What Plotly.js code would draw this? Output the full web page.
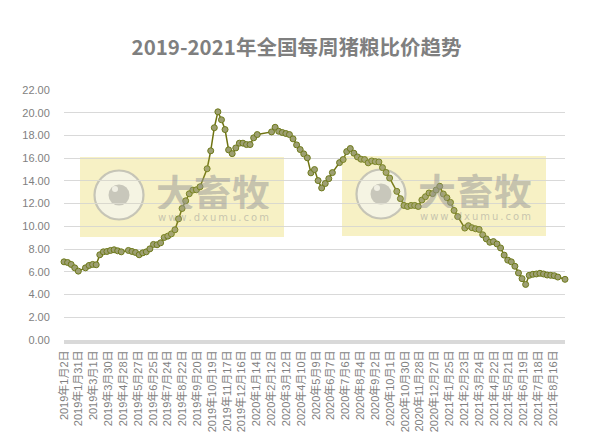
<!DOCTYPE html>
<html><head><meta charset="utf-8">
<script src="https://cdn.plot.ly/plotly-3.0.1.min.js"></script>
<style>html,body{margin:0;padding:0;background:#fff}</style></head>
<body><div id="chart" style="width:613px;height:440px"></div>
<script>
const chartTitle = "2019-2021年全国每周猪粮比价趋势";
const startDate = "2019-01-02";
const weekNumbers = [0,1,2,3,4,6,7,8,9,10,11,12,13,14,15,16,18,19,20,21,22,23,24,25,26,27,28,29,30,31,32,33,34,35,36,37,38,40,41,42,43,44,45,46,47,48,49,50,51,52,53,54,58,59,60,61,62,63,64,65,66,67,68,69,70,71,72,73,74,75,77,78,79,80,81,82,83,84,85,86,87,88,89,90,91,93,94,95,96,97,98,99,100,101,102,103,104,105,106,107,108,109,110,112,113,114,115,116,117,118,119,120,121,122,123,124,125,126,127,128,129,130,131,132,133,134,135,136,137,138,140];
const priceRatio = [6.88,6.82,6.65,6.35,6.06,6.35,6.56,6.65,6.62,7.50,7.76,7.79,7.88,7.94,7.85,7.76,7.88,7.79,7.70,7.50,7.67,7.76,8.02,8.41,8.38,8.55,9.02,9.14,9.34,9.70,10.66,11.57,12.25,12.87,13.19,13.22,13.48,15.07,16.65,18.68,20.08,19.38,18.52,16.73,16.40,16.90,17.32,17.32,17.20,17.20,17.79,18.08,18.31,18.72,18.37,18.26,18.17,18.08,17.70,17.17,16.76,16.38,16.03,14.71,15.00,14.03,13.38,13.77,14.20,14.73,15.61,15.88,16.58,16.85,16.44,16.11,15.91,15.88,15.59,15.76,15.70,15.67,15.17,14.74,14.25,13.08,12.44,11.84,11.75,11.84,11.84,11.75,12.32,12.61,12.94,12.88,13.20,13.53,12.85,12.52,12.11,11.40,10.86,9.85,10.06,9.88,9.79,9.73,9.26,8.90,8.60,8.66,8.45,8.10,7.47,7.03,6.88,6.49,5.90,5.40,4.89,5.69,5.78,5.81,5.87,5.81,5.72,5.69,5.66,5.54,5.34];
const tickDates = ["2019-01-02","2019-01-31","2019-03-01","2019-03-30","2019-04-28","2019-05-27","2019-06-25","2019-07-24","2019-08-22","2019-09-20","2019-10-19","2019-11-17","2019-12-16","2020-01-14","2020-02-12","2020-03-12","2020-04-10","2020-05-09","2020-06-07","2020-07-06","2020-08-04","2020-09-02","2020-10-01","2020-10-30","2020-11-28","2020-12-27","2021-01-25","2021-02-23","2021-03-24","2021-04-22","2021-05-21","2021-06-19","2021-07-18","2021-08-16"];
const tickLabels = tickDates.map(d => { const p = d.split("-"); return p[0]+"年"+(+p[1])+"月"+(+p[2])+"日"; });
const yTicks = [0,2,4,6,8,10,12,14,16,18,20,22];

const dayMs = 86400000;
const t0 = Date.parse(startDate+"T00:00:00Z");
const dates = weekNumbers.map(w => new Date(t0 + w*7*dayMs).toISOString().slice(0,10));
const endDate = new Date(t0 + 140*7*dayMs).toISOString().slice(0,10);

const W=613,H=440,L=64,R=565,T=90,B=340;
const px = x => (x-L)/(R-L), py = y => (B-y)/(B-T);
const FONT = '"Liberation Sans","Noto Sans CJK SC",sans-serif';
const shapes=[], annotations=[];
function rect(dx,dy,op,layer){shapes.push({type:"rect",xref:"paper",yref:"paper",layer:layer,x0:px(80+dx),x1:px(284+dx),y0:py(237+dy),y1:py(157+dy),fillcolor:"#eedd77",opacity:op,line:{width:0}});}
function circle(cx,cy,r,fill,line,lw){shapes.push({type:"circle",xref:"paper",yref:"paper",layer:"between",x0:px(cx-r),x1:px(cx+r),y0:py(cy+r),y1:py(cy-r),fillcolor:fill,line:{color:line,width:lw}});}
function watermark(dx,dy){
  rect(dx,dy,0.36,"between");
  circle(119+dx,195+dy,24.5,"rgba(246,246,246,0.85)","rgba(185,185,185,0.85)",2.2);
  circle(119+dx,195+dy,10.5,"rgba(165,165,165,0.6)","rgba(0,0,0,0)",0);
  circle(115+dx,189+dy,3,"rgba(245,245,245,0.9)","rgba(0,0,0,0)",0);
  rect(dx,dy,0.1,"above");
  annotations.push({xref:"paper",yref:"paper",x:px(213+dx),y:py(190+dy),xanchor:"center",yanchor:"middle",height:38,showarrow:false,text:"<b>大畜牧</b>",font:{family:'"Noto Sans CJK SC"',size:38,color:"rgba(150,150,150,0.5)"}});
  annotations.push({xref:"paper",yref:"paper",x:px(213+dx),y:py(217+dy),xanchor:"center",yanchor:"middle",height:10,showarrow:false,text:"w\u2009w\u2009w\u2009.\u2009d\u2009x\u2009u\u2009m\u2009u\u2009.\u2009c\u2009o\u2009m",font:{family:'"DejaVu Sans"',size:10,color:"rgba(150,150,150,0.5)"}});
}
watermark(0,0); watermark(262,-1);

Plotly.newPlot("chart",[{
  type:"scatter",mode:"lines+markers",x:dates,y:priceRatio,cliponaxis:false,
  line:{color:"#6f7311",width:1.5},
  marker:{size:6,color:"#9d9f72",line:{color:"#6e7a1a",width:1}},
  hoverinfo:"x+y"
}],{
  width:W,height:H,showlegend:false,paper_bgcolor:"#fff",plot_bgcolor:"#fff",
  margin:{l:L,r:W-R,t:T,b:H-B,pad:0},
  title:{text:"<b>"+chartTitle+"</b>",x:(296.5)/W,xanchor:"center",y:1-48/H,yanchor:"middle",font:{family:'"Noto Sans CJK SC"',size:20.5,color:"#7f7f7f"}},
  xaxis:{type:"date",range:[startDate,endDate],tickmode:"array",tickvals:tickDates,ticktext:tickLabels,tickangle:-90,showgrid:false,zeroline:false,showline:true,linecolor:"#d9d9d9",linewidth:4,ticks:"outside",ticklen:2,tickcolor:"rgba(0,0,0,0)",tickfont:{family:FONT,size:11,color:"#7f7f7f"}},
  yaxis:{range:[0,22],tickmode:"array",tickvals:yTicks,ticktext:yTicks.map(v=>v.toFixed(2)),showgrid:true,gridcolor:"#d9d9d9",gridwidth:1,zeroline:false,showline:false,ticks:"outside",ticklen:11,tickcolor:"rgba(0,0,0,0)",tickfont:{family:FONT,size:11,color:"#7f7f7f"}},
  shapes:shapes,annotations:annotations
},{displayModeBar:false,staticPlot:true});
</script></body></html>
